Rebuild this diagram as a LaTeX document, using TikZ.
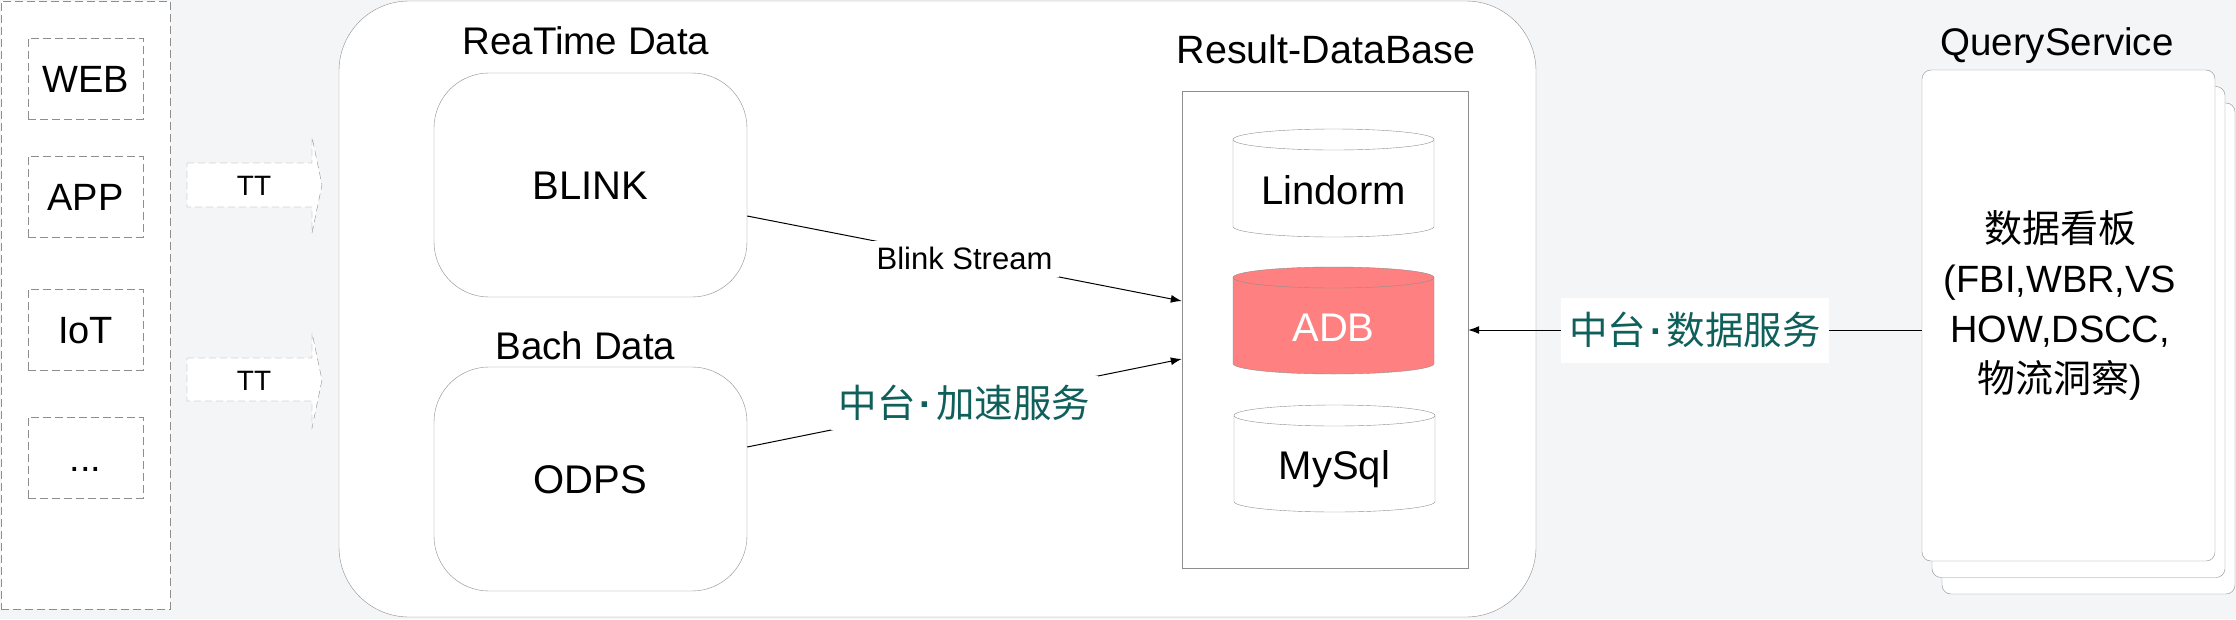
\documentclass[tikz,border=0pt]{standalone}
\usepackage{fontspec}
\setmainfont{Liberation Sans}
\newfontfamily\cjk{Noto Sans CJK SC}
\newfontfamily\latinf{Liberation Sans}
\usetikzlibrary{arrows.meta}
\definecolor{bgcol}{HTML}{F4F5F7}
\definecolor{bord}{HTML}{8E8E8E}
\definecolor{labteal}{HTML}{0F5F5B}
\definecolor{adbred}{HTML}{FF8080}
\newcommand\middot{\kern4pt{\latinf\bfseries ·}\kern4pt}
\newcommand\dbcyl[7]{%
  % #1 name, #2 cx, #3 top, #4 bottom, #5 fill, #6 text colour, #7 text
  \draw[draw=bord, fill=#5] (#2-100.5,#3+10.5) -- (#2-100.5,#4-10.5)
     arc (180:0:100.5 and 10.5) -- (#2+100.5,#3+10.5)
     arc (0:-180:100.5 and 10.5) -- cycle;
  \draw[draw=bord] (#2-100.5,#3+10.5) arc (180:0:100.5 and 10.5);
  \node[dbtext, text=#6] (#1) at (#2,{(#3+#4)/2+7}) {#7};
}
\begin{document}
\begin{tikzpicture}[x=1pt,y=-1pt,
  srcbox/.style={draw=bord, dash pattern=on 8pt off 4pt, fill=white,
    minimum width=115, minimum height=81, inner sep=0pt,
    font=\fontsize{38}{38}\selectfont, text height=27pt, text depth=0pt},
  panel/.style={draw=bord, dash pattern=on 8pt off 4pt, fill=white,
    minimum width=169, minimum height=608, inner sep=0pt},
  ttshape/.style={draw=bord, dash pattern=on 7pt off 4pt, fill=white},
  ttlabel/.style={font=\fontsize{28}{28}\selectfont, text height=20pt, text depth=0pt, inner sep=0pt},
  title/.style={font=\fontsize{38.5}{38.5}\selectfont, text height=27.5pt, text depth=0pt, inner sep=0pt},
  engine/.style={draw=bord, fill=white, rounded corners=55pt,
    minimum width=313, minimum height=224, inner sep=0pt,
    font=\fontsize{40}{40}\selectfont, text height=28.6pt, text depth=0pt},
  dbtext/.style={font=\fontsize{40}{40}\selectfont, text height=28.6pt, text depth=0pt, inner sep=0pt},
  conn/.style={draw=black, line width=1pt, -{Latex[length=11pt,width=8pt]}},
  streamlbl/.style={fill=white, font=\fontsize{31}{31}\selectfont, text height=22pt, text depth=0pt, inner xsep=7pt, inner ysep=7pt},
  cnlbl/.style={fill=white, text=labteal, font=\cjk\fontsize{38.5}{38.5}\selectfont, text height=33.5pt, text depth=4.5pt, inner xsep=8pt},
  qsbox/.style={draw=bord, fill=white, rounded corners=9pt, minimum width=293, minimum height=491, inner sep=0pt}
]
\useasboundingbox (0,0) rectangle (2236,619);
\fill[bgcol] (0,0) rectangle (2236,619);

% sources panel
\node[panel] (srcpanel) at (85.5,305) {};
\node[srcbox] (web) at (85.5,78.5) {WEB};
\node[srcbox] (app) at (85.5,196.5) {APP};
\node[srcbox] (iot) at (85.5,329.5) {IoT};
\node[srcbox] (more) at (85.5,457.5) {...};

% TT arrows
\draw[ttshape] (187,163) -- (312,163) -- (312,137) -- (322,185) -- (312,233) -- (312,207) -- (187,207) -- cycle;
\node[ttlabel] (tt1) at (254,185) {TT};
\draw[ttshape] (187,358) -- (312,358) -- (312,333) -- (322,380) -- (312,428) -- (312,401) -- (187,401) -- cycle;
\node[ttlabel] (tt2) at (254,380) {TT};

% processing container
\node[draw=bord, fill=white, rounded corners=70pt, minimum width=1197, minimum height=616, inner sep=0pt] (proc) at (937.5,309) {};
\node[title] (rtlabel) at (586,40.5) {ReaTime Data};
\node[engine] (blink) at (590.5,185) {BLINK};
\node[title] (bachlabel) at (585.5,346) {Bach Data};
\node[engine] (odps) at (590.5,479) {ODPS};

\node[title, font=\fontsize{39.5}{39.5}\selectfont, text height=28pt] (rdblabel) at (1326,49) {Result-DataBase};
\node[draw=bord, fill=white, minimum width=286, minimum height=477, inner sep=0pt] (rdb) at (1325,330) {};

\dbcyl{lindorm}{1333.5}{129}{237}{white}{black}{Lindorm}
\dbcyl{adb}{1333.5}{267}{374}{adbred}{white}{ADB}
\dbcyl{mysql}{1334.5}{405}{512}{white}{black}{MySql}

% query service
\node[title, font=\fontsize{38.5}{38.5}\selectfont, text height=27.5pt] (qslabel) at (2057,41.5) {QueryService};
\node[qsbox] (qs3) at (2088.5,348.5) {};
\node[qsbox] (qs2) at (2078.5,332) {};
\node[qsbox] (qs1) at (2068.5,315.5) {};
\node[align=center, font=\fontsize{38}{50}\selectfont, inner sep=0pt] (qstext) at (2060,305)
  {{\cjk 数据看板}\\(FBI,WBR,VS\\HOW,DSCC,\\{\cjk 物流洞察})};

% connectors
\draw[conn] ([yshift=-31pt]blink.east) -- node[streamlbl] (bslabel) {Blink Stream} ([yshift=29pt]rdb.west);
\draw[conn] ([yshift=32pt]odps.east) -- node[cnlbl, inner ysep=8pt] (acclabel) {中台\middot 加速服务} ([yshift=-29pt]rdb.west);
\draw[conn] (qs1.west |- rdb.east) -- node[cnlbl, inner ysep=13.5pt] (svclabel) {中台\middot 数据服务} (rdb.east);
\end{tikzpicture}
\end{document}
